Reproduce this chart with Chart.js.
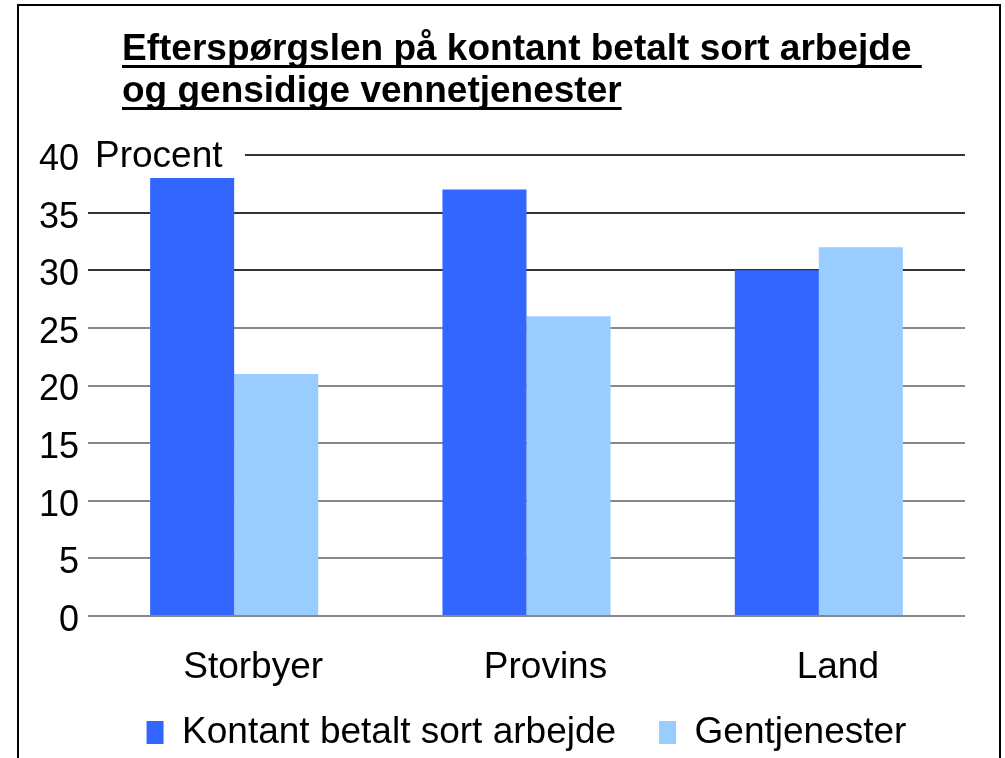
<!DOCTYPE html>
<html>
<head>
<meta charset="utf-8">
<script src="https://cdn.jsdelivr.net/npm/chart.js@4.4.0/dist/chart.umd.min.js"></script>
<style>
  html, body { margin: 0; padding: 0; background: #fff; }
  canvas { display: block; }
</style>
</head>
<body>
<canvas id="chart" width="1005" height="758"></canvas>
<script>
const titleLines = ['Efterspørgslen på kontant betalt sort arbejde ', 'og gensidige vennetjenester']
const categories = ['Storbyer', 'Provins', 'Land']
const sortArbejde = [38, 37, 30]
const gentjenester = [21, 26, 32]
const seriesNames = ['Kontant betalt sort arbejde', 'Gentjenester']
const yUnit = 'Procent'

const fontFamily = '"Liberation Sans", Arial, Helvetica, sans-serif'

// frame, underlined title and the "Procent" label
const decorations = {
  id: 'decorations',
  afterLayout(chart) {
    // let the category labels hang into the legend's top padding without clipping
    chart.scales.x.bottom = chart.height
  },
  afterDraw(chart) {
    const c = chart.ctx
    const area = chart.chartArea
    c.save()

    c.strokeStyle = '#000'
    c.lineWidth = 2
    c.strokeRect(18, 5, 982, 800)

    c.fillStyle = '#000'
    c.font = 'bold 37px ' + fontFamily
    c.textBaseline = 'alphabetic'
    c.textAlign = 'left'
    const baselines = [60, 102]
    titleLines.forEach((line, i) => {
      c.fillText(line, 122, baselines[i])
      const w = c.measureText(line).width
      c.fillRect(122, baselines[i] + 5, w, 3)
    })

    // cut the top grid line where the unit label sits
    const yTop = chart.scales.y.getPixelForValue(40)
    c.fillStyle = '#fff'
    c.fillRect(area.left, yTop - 4, 245 - area.left, 8)
    c.fillStyle = '#000'
    c.font = '37px ' + fontFamily
    c.fillText(yUnit, 95, 167)

    c.restore()
  }
}

new Chart(document.getElementById('chart'), {
  type: 'bar',
  data: {
    labels: categories,
    datasets: [
      {label: seriesNames[0], data: sortArbejde, backgroundColor: '#3366FF', borderWidth: 0},
      {label: seriesNames[1], data: gentjenester, backgroundColor: '#99CCFF', borderWidth: 0}
    ]
  },
  options: {
    responsive: false,
    animation: false,
    devicePixelRatio: 1,
    layout: {padding: {left: 20, right: 40, top: 155, bottom: -3}},
    datasets: {bar: {categoryPercentage: 0.575, barPercentage: 1}},
    plugins: {
      title: {display: false},
      tooltip: {enabled: false},
      legend: {
        position: 'bottom',
        fullSize: false,
        labels: {
          color: '#000',
          font: {family: fontFamily, size: 37},
          boxWidth: 17,
          boxHeight: 23,
          padding: 43
        }
      }
    },
    scales: {
      x: {
        grid: {display: false},
        border: {display: false},
        ticks: {
          color: '#000',
          font: {family: fontFamily, size: 37},
          padding: 22,
          labelOffset: 19
        },
        afterFit(scale) { scale.height = 55 }
      },
      y: {
        min: 0,
        max: 40,
        border: {display: false},
        grid: {
          drawTicks: false,
          lineWidth: 2,
          color: ctx => (ctx.tick && ctx.tick.value >= 30 ? '#333' : '#888')
        },
        ticks: {
          stepSize: 5,
          color: '#000',
          font: {family: fontFamily, size: 36},
          padding: 9,
          labelOffset: 5
        },
        afterFit(scale) { scale.width = 68 }
      }
    }
  },
  plugins: [decorations]
})
</script>
</body>
</html>
